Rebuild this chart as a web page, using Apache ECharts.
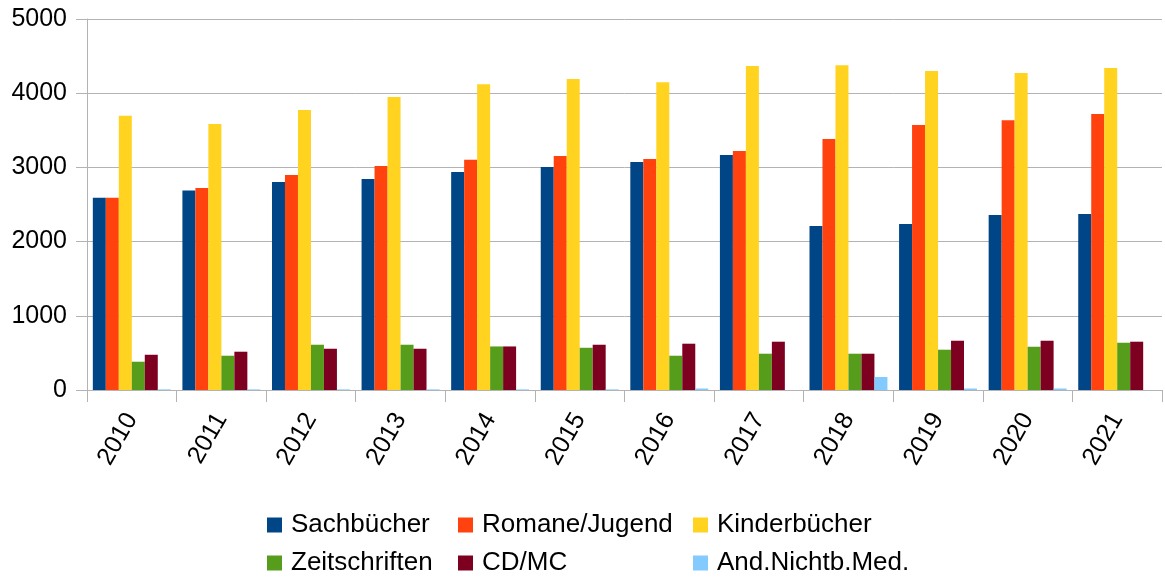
<!DOCTYPE html>
<html>
<head>
<meta charset="utf-8">
<script src="https://cdn.jsdelivr.net/npm/echarts@6/dist/echarts.min.js"></script>
<style>
    html, body { margin: 0; padding: 0; background: #fff; }
    #main { width: 1165px; height: 577px; }
</style>
</head>
<body>
<div id="main"></div>
<script>
var years = ['2010', '2011', '2012', '2013', '2014', '2015', '2016', '2017', '2018', '2019', '2020', '2021'];
var sachbuecher = [2590, 2687, 2804, 2844, 2938, 3005, 3072, 3166, 2211, 2238, 2359, 2373];
var romane = [2590, 2723, 2898, 3019, 3104, 3153, 3113, 3220, 3382, 3570, 3637, 3718];
var kinderbuecher = [3696, 3584, 3773, 3950, 4122, 4190, 4149, 4365, 4378, 4298, 4271, 4338];
var zeitschriften = [381, 462, 610, 610, 587, 569, 462, 489, 489, 543, 583, 637];
var cdmc = [475, 516, 556, 556, 587, 610, 624, 651, 489, 664, 664, 651];
var andere = [8, 8, 8, 8, 8, 8, 20, 0, 175, 20, 20, 0];

var colors = ['#004586', '#ff420e', '#ffd320', '#579d1c', '#7e0021', '#83caff'];
var names = ['Sachbücher', 'Romane/Jugend', 'Kinderbücher', 'Zeitschriften', 'CD/MC', 'And.Nichtb.Med.'];
var values = [sachbuecher, romane, kinderbuecher, zeitschriften, cdmc, andere];

var chart = echarts.init(document.getElementById('main'));

// legend is laid out like a table: 3 columns, 2 rows
var legendCols = [267, 458, 693];
var legendRows = [512, 550];

var legends = [];
var series = [];
for (var i = 0; i < names.length; i++) {
    legends.push({
        left: legendCols[i % 3],
        top: legendRows[Math.floor(i / 3)],
        padding: 0,
        itemWidth: 15,
        itemHeight: 15,
        itemGap: 0,
        icon: 'rect',
        data: [names[i]],
        textStyle: { fontFamily: 'Liberation Sans', fontSize: 26, color: '#000', padding: [0, 0, 0, 4] }
    });
    series.push({
        name: names[i],
        type: 'bar',
        data: values[i],
        barGap: 0,
        barCategoryGap: '13%',
        itemStyle: { color: colors[i] },
        animation: false
    });
}

var option = {
    color: colors,
    textStyle: { fontFamily: 'Liberation Sans' },
    legend: legends,
    grid: { left: 87, right: 3, top: 19, bottom: 187, containLabel: false },
    xAxis: {
        type: 'category',
        data: years,
        axisLine: { lineStyle: { color: '#b3b3b3' } },
        axisTick: { show: true, length: 12, lineStyle: { color: '#b3b3b3' } },
        axisLabel: { rotate: 60, margin: 25, fontSize: 25, color: '#000', fontFamily: 'Liberation Sans' }
    },
    yAxis: {
        type: 'value',
        min: 0,
        max: 5000,
        interval: 1000,
        axisLine: { show: true, lineStyle: { color: '#b3b3b3' } },
        axisTick: { show: true, length: 11, lineStyle: { color: '#b3b3b3' } },
        splitLine: { lineStyle: { color: '#b3b3b3' } },
        axisLabel: {
            margin: 20, fontSize: 25, color: '#000', fontFamily: 'Liberation Sans',
            formatter: function (v) { return String(v); }
        }
    },
    series: series
};
chart.setOption(option);
</script>
</body>
</html>
